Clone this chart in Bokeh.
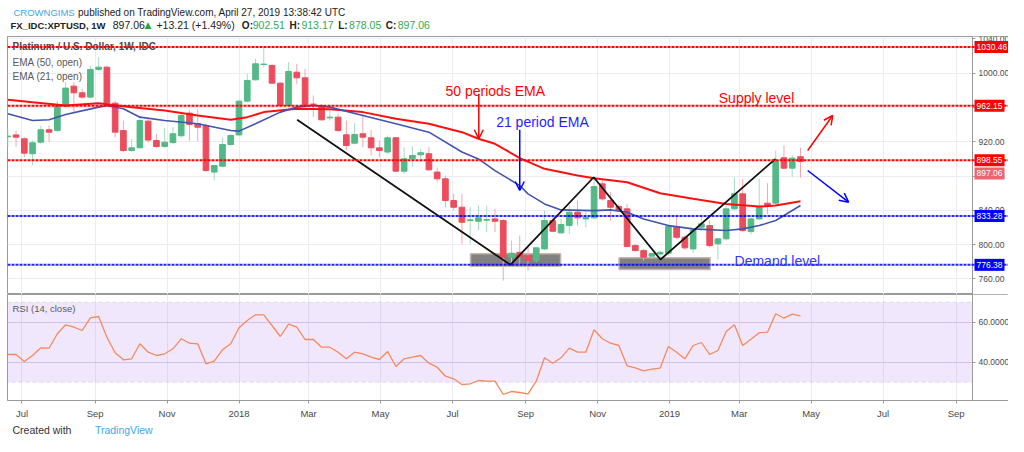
import pandas as pd
from bokeh.plotting import figure
from bokeh.layouts import column
from bokeh.models import (Range1d, FixedTicker, NumeralTickFormatter, Label, Span,
                          BoxAnnotation, Arrow, OpenHead, ColumnDataSource)
from bokeh.embed import file_html
from bokeh.resources import INLINE

FONT = "Liberation Sans"
W = 1008

# ---------------- data (weekly candles, XPTUSD) ----------------
first_week = "2017-06-19"

open_ = [925.8, 928.0, 923.4, 906.0, 919.5, 934.0, 933.0, 961.6, 984.9, 977.1,
         972.1, 1004.4, 1007.0, 965.0, 933.0, 909.8, 913.0, 944.0, 921.5, 914.5,
         919.0, 927.0, 953.4, 941.0, 939.0, 884.6, 891.5, 916.8, 928.0, 967.4,
         992.3, 1010.2, 1009.0, 988.4, 962.3, 1001.2, 994.6, 964.0, 962.3, 947.9,
         948.7, 928.1, 918.4, 929.3, 924.6, 912.9, 908.0, 924.6, 885.7, 900.1,
         904.8, 906.0, 884.6, 876.7, 851.4, 843.6, 828.0, 827.3, 828.5, 830.0,
         828.0, 785.3, 791.0, 787.0, 781.4, 795.0, 828.0, 813.7, 822.2, 837.8,
         830.0, 831.2, 870.9, 851.4, 844.4, 841.7, 798.9, 793.0, 786.5, 789.0,
         790.0, 820.3, 808.6, 795.0, 820.3, 822.2, 800.9, 806.7, 841.7, 859.2,
         815.2, 830.0, 848.3, 848.3, 901.3, 889.2, 902.51]
high = [935, 933, 925, 921.5, 939, 939, 968, 989.6, 989.6, 981.8,
        1009, 1018.7, 1009, 968, 944.8, 923.5, 948.7, 948, 929, 936.3,
        937, 954.6, 956.5, 958, 941, 893, 925, 929, 969, 999.3,
        1016.8, 1030.46, 1011, 989.6, 1012.9, 1011, 1005.1, 974, 964.3, 958.5,
        952.6, 944.8, 941.7, 952.6, 934, 921.5, 927.3, 925.4, 913.7, 914.5,
        911.8, 913.7, 890, 880.6, 859.2, 859.2, 843.6, 845.6, 845.6, 841.7,
        830, 804.7, 810.6, 797, 797, 839.7, 832, 830, 845.6, 851.4,
        839.7, 878.6, 876.7, 861.1, 847.5, 847.5, 800.9, 795, 790.5, 793,
        824, 834, 810.6, 818.4, 834, 828.1, 808, 845.6, 878.6, 876.7,
        832, 876.7, 871.6, 909.8, 915.7, 904.5, 913.17]
low = [914, 914, 902, 892.3, 917.6, 919.5, 932, 960, 954.6, 970,
       971, 1003, 963.5, 925, 908, 908, 911.8, 919, 913, 913,
       917, 925, 921.5, 921, 884.6, 874.8, 890, 915, 927, 966,
       991.5, 1007, 987.6, 961.1, 961.1, 987.6, 960.4, 948.7, 944.8, 944.8,
       931.2, 909.8, 916.8, 913.7, 904, 902, 906, 884.6, 882.6, 890.4,
       896.2, 886, 873.4, 843.6, 840.5, 800.8, 800.8, 816.4, 814.5, 814.5,
       758, 777.5, 773.6, 769.7, 779.5, 793.8, 814.5, 812.5, 812.5, 822.2,
       820.3, 830, 851.4, 828.1, 839.7, 797, 792.3, 781.4, 784, 783.5,
       787, 806.7, 793.8, 790, 816.4, 797, 782.2, 804.7, 839.7, 814.5,
       811.7, 828.8, 835.9, 845.6, 888.4, 878.7, 878.05]
close = [926.6, 925.4, 906.7, 918.8, 934.0, 931.2, 961.6, 982.6, 977.1, 972.1,
         1004.4, 1007.0, 965.0, 931.2, 909.8, 912.9, 944.8, 922.0, 914.5, 919.5,
         929.3, 950.7, 940.2, 937.0, 886.5, 892.3, 916.8, 927.3, 967.4, 991.5,
         1011.0, 1010.6, 988.4, 962.3, 1002.0, 994.6, 962.3, 963.5, 945.6, 948.7,
         933.2, 915.7, 928.5, 925.4, 912.9, 909.8, 924.6, 885.7, 900.1, 904.0,
         907.2, 887.3, 876.8, 851.4, 843.6, 826.1, 828.9, 831.2, 829.2, 827.3,
         785.3, 790.0, 785.3, 781.4, 796.2, 828.1, 815.6, 823.4, 837.8, 831.2,
         832.0, 867.8, 853.4, 843.6, 840.5, 797.7, 793.0, 785.3, 789.5, 791.0,
         821.1, 808.6, 796.2, 817.2, 824.2, 798.9, 806.7, 841.7, 859.2, 816.4,
         830.0, 844.4, 845.6, 898.5, 889.2, 900.9, 897.06]
rsi = [43.85, 43.85, 40.35, 43.35, 47.2, 47.0, 54.2, 58.7, 57.5, 55.85,
       62.2, 62.85, 52.5, 44.7, 41.2, 41.7, 49.2, 45.0, 43.35, 44.2,
       46.7, 51.7, 49.5, 49.2, 39.2, 40.5, 46.2, 49.2, 57.2, 60.85,
       63.7, 63.7, 58.35, 52.85, 59.0, 57.5, 51.35, 51.35, 47.5, 47.5,
       45.0, 41.7, 45.0, 44.2, 42.5, 41.35, 45.35, 37.85, 41.7, 42.5,
       43.35, 39.5, 37.5, 33.0, 31.7, 28.85, 29.2, 30.85, 30.5, 30.5,
       23.85, 25.35, 24.85, 24.2, 30.5, 42.2, 39.5, 42.2, 47.0, 45.0,
       45.0, 56.2, 51.7, 49.5, 48.35, 38.2, 37.2, 35.7, 36.5, 37.0,
       47.85, 45.0, 41.7, 48.35, 49.85, 43.85, 45.85, 55.35, 58.7, 48.35,
       51.5, 54.7, 55.0, 64.2, 62.0, 64.0, 63.2]

# EMA values at selected weeks (week index, value)
ema50_weeks = [0, 3, 7, 11, 15, 19, 23, 27, 29, 31, 35, 39, 43, 47, 51, 55, 57, 59,
               62, 65, 69, 71, 75, 79, 83, 87, 91, 93, 96]
ema50_vals = [969, 966, 962.3, 965, 960.4, 956.5, 950.7, 945.6, 948.7, 954.6, 958.5, 958,
              954.6, 946.8, 941, 931.2, 923.5, 917.6, 901, 888.4, 880.6, 877.5, 872.8,
              860, 853.4, 847.5, 844.4, 845.6, 850.6]
ema21_weeks = [0, 3, 5, 7, 11, 12, 14, 16, 19, 23, 27, 28, 30, 33, 35, 37, 39, 43, 47,
               51, 55, 57, 59, 62, 63, 65, 67, 71, 73, 75, 77, 80, 83, 87, 89, 91, 93, 96]
ema21_vals = [952.6, 944.8, 945.6, 951.8, 960.4, 962.3, 958.5, 948.7, 944.8, 941, 933.2,
              932.4, 941, 954.6, 960.4, 962.3, 960.4, 950.7, 941, 931.2, 908, 900, 886.4,
              868.9, 859.2, 847.5, 840.5, 839.7, 840.5, 837.8, 830, 822.2, 818.4, 816.4,
              818.4, 822.2, 828.1, 845.6]

# horizontal levels
supply_levels = [1030.46, 962.15, 898.55]
demand_levels = [833.28, 776.38]

# axis ticks
month_ticks = ["2017-07-01", "2017-09-01", "2017-11-01", "2018-01-01", "2018-03-01",
               "2018-05-01", "2018-07-01", "2018-09-01", "2018-11-01", "2019-01-01",
               "2019-03-01", "2019-05-01", "2019-07-01", "2019-09-01"]
month_labels = ["Jul", "Sep", "Nov", "2018", "Mar", "May", "Jul", "Sep", "Nov", "2019",
                "Mar", "May", "Jul", "Sep"]
price_ticks = [760, 800, 840, 880, 920, 960, 1000, 1040]
rsi_ticks = [40, 60]

# drawings on the chart
zz_dates = ["2018-02-19 07:00", "2018-08-19 02:00", "2018-10-28 17:00",
            "2018-12-24 07:00", "2019-03-31 19:00"]
zz_prices = [945.6, 776.4, 878.6, 782.6, 900.1]
zone_left = ["2018-07-16 07:00", "2018-11-19 05:00"]
zone_right = ["2018-09-30 14:00", "2019-02-04 10:00"]
zone_bottom = [774.8, 770.9]
zone_top = [789.3, 784.6]


def ms(t):
    return pd.Timestamp(t).value / 1e6


dates = pd.date_range(first_week, periods=len(close), freq="7D")

# horizontal layout: frame from canvas x=7 to 1008, price scale drawn at x=972
PX_PER_DAY = 1.1796
FIRST_X = 7.3
t0 = pd.Timestamp(first_week)
view_start = t0 + pd.Timedelta(days=(7 - FIRST_X) / PX_PER_DAY)
axis_at = t0 + pd.Timedelta(days=(972 - FIRST_X) / PX_PER_DAY)
view_end = t0 + pd.Timedelta(days=(W - FIRST_X) / PX_PER_DAY)
xr = Range1d(start=ms(view_start), end=ms(view_end))
tick_ms = [ms(t) for t in month_ticks]

GRID = "#e9edf3"
FRAME = "#9a9a9a"
AXTXT = "#4a4a4a"
UP, DOWN = "#53b987", "#eb4d5c"
UPW, DOWNW = "#a8dcc3", "#f4a6ae"
RED, BLUE = "#ff0000", "#0000ff"


def base_fig(**kw):
    p = figure(toolbar_location=None, output_backend="svg", **kw)
    p.background_fill_color = "white"
    p.border_fill_color = "white"
    return p


# ---------------- header ----------------
hdr = base_fig(width=W, height=32, x_range=Range1d(0, W), y_range=Range1d(32, 0),
               x_axis_location=None, y_axis_location=None, min_border=0)
hdr.outline_line_color = None
hdr.grid.visible = False


def htxt(p, x, y, text, color="#222222", size="10px", style="normal", font=FONT):
    p.add_layout(Label(x=x, y=y, text=text, text_color=color, text_font=font,
                       text_font_size=size, text_font_style=style,
                       text_baseline="middle", text_align="left"))


htxt(hdr, 6, 11.5, "CROWNGIMS", color="#3ea7df", size="9.5px")
htxt(hdr, 71, 11.5, "published on TradingView.com, April 27, 2019 13:38:42 UTC")
GREEN_T = "#34a853"
htxt(hdr, 3, 24.5, "FX_IDC:XPTUSD, 1W", style="bold", size="9.5px")
htxt(hdr, 106, 24.5, f"{close[-1]:.2f}", size="10.5px")
htxt(hdr, 138, 24.5, "\u25B2", color="#22a63c", size="9px", font="DejaVu Sans")
htxt(hdr, 150, 24.5, "+13.21 (+1.49%)", size="10.5px")
for lx, lab, vx, v in [(236, "O:", 247, open_[-1]), (284, "H:", 296, high[-1]),
                       (333, "L:", 344, low[-1]), (381, "C:", 393, close[-1])]:
    htxt(hdr, lx, 24.5, lab, style="bold")
    htxt(hdr, vx, 24.5, f"{v:.2f}", color=GREEN_T, size="10.5px")


def style_y(p, ticks, fmt):
    ax = p.yaxis[0]
    ax.fixed_location = ms(axis_at)
    ax.ticker = FixedTicker(ticks=ticks)
    ax.formatter = NumeralTickFormatter(format=fmt)
    ax.major_label_text_font = FONT
    ax.major_label_text_font_size = "8.5px"
    ax.major_label_text_color = AXTXT
    ax.axis_line_color = FRAME
    ax.major_tick_line_color = FRAME
    ax.major_tick_in = 0
    ax.major_tick_out = 3
    ax.minor_tick_line_color = None
    ax.major_label_standoff = 3
    p.ygrid.ticker = FixedTicker(ticks=ticks)
    p.xgrid.ticker = FixedTicker(ticks=tick_ms)
    p.grid.grid_line_color = GRID
    p.grid.grid_line_width = 1
    # keep the price-scale strip clear of grid lines
    p.add_layout(BoxAnnotation(left=ms(axis_at), fill_color="white", fill_alpha=1,
                               line_color=None, level="underlay"))


# ---------------- price panel ----------------
pf = base_fig(width=W, height=262, x_range=xr, y_range=Range1d(741.79, 1042.82),
              x_axis_type="datetime", y_axis_location="right",
              min_border_left=7, min_border_right=0, min_border_top=4, min_border_bottom=0)
pf.outline_line_color = FRAME
pf.xaxis.visible = False
style_y(pf, price_ticks, "0.00")

body_w = 4.8 * 86400000
src = ColumnDataSource(dict(
    date=dates, high=high, low=low,
    top=[max(o, c) for o, c in zip(open_, close)],
    bottom=[min(o, c) for o, c in zip(open_, close)],
    body=[UP if c >= o else DOWN for o, c in zip(open_, close)],
    wick=[UPW if c >= o else DOWNW for o, c in zip(open_, close)],
))

pf.quad(left=pd.to_datetime(zone_left), right=pd.to_datetime(zone_right),
        bottom=zone_bottom, top=zone_top, fill_color="#767676", fill_alpha=0.92,
        line_color="#c7b5a8", line_width=1.5)
pf.segment(x0="date", y0="high", x1="date", y1="low", line_color="wick",
           line_width=1, source=src)
pf.vbar(x="date", width=body_w, top="top", bottom="bottom", fill_color="body",
        line_color="body", line_width=1, source=src)
pf.line(x=dates[ema50_weeks], y=ema50_vals, line_color="#ff1010", line_width=2)
pf.line(x=dates[ema21_weeks], y=ema21_vals, line_color="#4254b0", line_width=1.6)
pf.line(x=pd.to_datetime(zz_dates), y=zz_prices, line_color="#111111", line_width=1.8)

# panel titles (under the dotted levels)
pf.add_layout(Label(x=5, y=248, x_units="screen", y_units="screen",
                    text="Platinum / U.S. Dollar, 1W, IDC", text_font=FONT,
                    text_font_size="10px", text_font_style="bold", text_color="#4a4a4a",
                    text_baseline="middle"))
for yy, t in [(232, "EMA (50, open)"), (218, "EMA (21, open)")]:
    pf.add_layout(Label(x=5, y=yy, x_units="screen", y_units="screen", text=t,
                        text_font=FONT, text_font_size="10px", text_color="#5a5a5a",
                        text_baseline="middle"))

for v in supply_levels:
    pf.add_layout(Span(location=v, dimension="width", line_color=RED, line_width=2,
                       line_dash="3 1"))
for v in demand_levels:
    pf.add_layout(Span(location=v, dimension="width", line_color=BLUE, line_width=2,
                       line_dash="3 1", line_alpha=0.85))

# text notes
notes = [("50 periods EMA", "2018-06-25", 979.8, RED),
         ("21 period EMA", "2018-08-07", 942.5, "#1f1fff"),
         ("Supply level", "2019-02-11 17:00", 970.5, RED),
         ("Demand level", "2019-02-25 02:00", 780.3, "#3434ff")]
for t, d, pr, col in notes:
    pf.add_layout(Label(x=ms(d), y=pr, text=t, text_font=FONT, text_font_size="14px",
                        text_color=col, text_baseline="alphabetic", text_align="left"))

arrows = [("2018-07-23 07:00", 976.0, "2018-07-23 07:00", 923.5, RED),
          ("2018-08-27", 934.0, "2018-08-27", 863.1, BLUE),
          ("2019-04-28 02:00", 909.8, "2019-05-19 07:00", 950.6, RED),
          ("2019-04-28 02:00", 886.5, "2019-06-01 19:00", 849.5, BLUE)]
for xs, ys, xe, ye, col in arrows:
    pf.add_layout(Arrow(end=OpenHead(size=9, line_color=col, line_width=1.5),
                        x_start=ms(xs), y_start=ys, x_end=ms(xe), y_end=ye,
                        line_color=col, line_width=1.5))

# price tags on the price scale
tags = [(v, RED, 0) for v in supply_levels] + [(close[-1], "#ee6370", -12)] + \
       [(v, BLUE, 0) for v in demand_levels]
for v, col, off in tags:
    pf.add_layout(Label(x=ms(axis_at), y=v, x_offset=2, y_offset=off, text=f"{v:.2f}",
                        text_font=FONT, text_font_size="8.5px", text_color="white",
                        text_baseline="middle", text_align="left",
                        background_fill_color=col, padding=(2, 3)))

# ---------------- RSI panel ----------------
rf = base_fig(width=W, height=128, x_range=xr, y_range=Range1d(20.85, 73.85),
              x_axis_type="datetime", y_axis_location="right",
              min_border_left=7, min_border_right=0, min_border_top=0, min_border_bottom=22)
rf.outline_line_color = FRAME
rf.add_layout(BoxAnnotation(bottom=30, top=70, right=ms(axis_at), fill_color="#8c3cf0",
                            fill_alpha=0.12, line_color="#aaa5ba", line_width=1,
                            line_dash="4 3", level="underlay"))
style_y(rf, rsi_ticks, "0.0000")
rf.ygrid.grid_line_color = "#ddd3ee"
xa = rf.xaxis[0]
xa.ticker = FixedTicker(ticks=tick_ms)
xa.major_label_overrides = {t: l for t, l in zip(tick_ms, month_labels)}
xa.major_label_text_font = FONT
xa.major_label_text_font_size = "9.5px"
xa.major_label_text_color = AXTXT
xa.axis_line_color = FRAME
xa.major_tick_line_color = FRAME
xa.major_tick_in = 0
xa.major_tick_out = 3
xa.minor_tick_line_color = None
xa.major_label_standoff = 4

rf.line(x=dates, y=rsi, line_color="#f5895b", line_width=1.3)
rf.add_layout(Label(x=5, y=92, x_units="screen", y_units="screen", text="RSI (14, close)",
                    text_font=FONT, text_font_size="9.5px", text_color="#5a5a5a",
                    text_baseline="middle"))

# ---------------- footer ----------------
ftr = base_fig(width=W, height=14, x_range=Range1d(0, W), y_range=Range1d(14, 0),
               x_axis_location=None, y_axis_location=None, min_border=0)
ftr.outline_line_color = None
ftr.grid.visible = False
htxt(ftr, 5, 7.5, "Created with", color="#333333", size="10.5px")
htxt(ftr, 88, 7.5, "TradingView", color="#4aa6e0", size="10.5px")

layout = column(hdr, pf, rf, ftr)
open("out.html", "w").write(file_html(layout, INLINE))
